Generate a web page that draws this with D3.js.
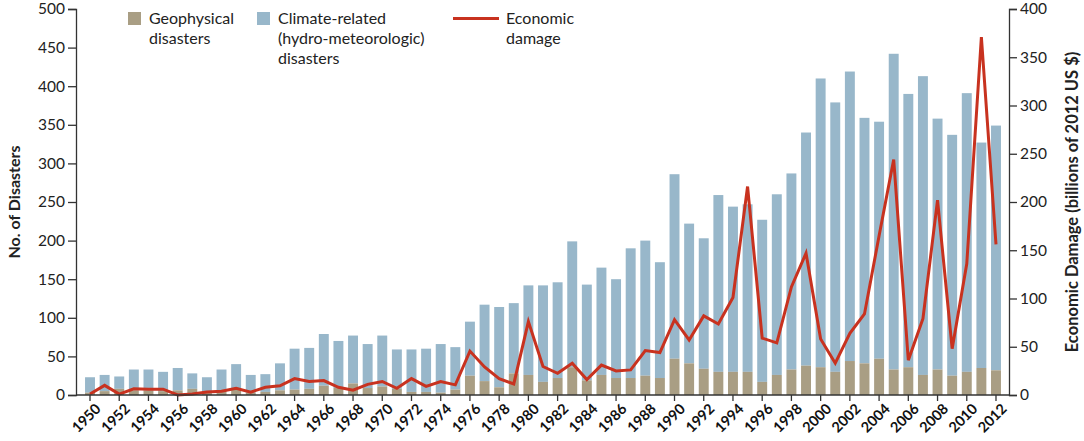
<!DOCTYPE html>
<html>
<head>
<meta charset="utf-8">
<script src="https://cdn.jsdelivr.net/npm/d3@7"></script>
<style>
  body { margin: 0; background: #fff; }
  svg { font-family: Lato, "Open Sans", sans-serif; }
</style>
</head>
<body>
<svg width="1084" height="441"></svg>
<script>
// data
const years = [1950, 1951, 1952, 1953, 1954, 1955, 1956, 1957, 1958, 1959,
  1960, 1961, 1962, 1963, 1964, 1965, 1966, 1967, 1968, 1969,
  1970, 1971, 1972, 1973, 1974, 1975, 1976, 1977, 1978, 1979,
  1980, 1981, 1982, 1983, 1984, 1985, 1986, 1987, 1988, 1989,
  1990, 1991, 1992, 1993, 1994, 1995, 1996, 1997, 1998, 1999,
  2000, 2001, 2002, 2003, 2004, 2005, 2006, 2007, 2008, 2009,
  2010, 2011, 2012];

const geophysical = [3, 5, 8, 6, 6, 5, 6, 8, 5, 5,
  8, 3, 4, 6, 7, 8, 12, 9, 15, 9,
  11, 8, 4, 4, 3, 7, 25, 18, 10, 28,
  26, 17, 22, 36, 19, 26, 22, 22, 25, 22,
  47, 41, 34, 30, 30, 30, 17, 26, 33, 38,
  36, 30, 44, 41, 47, 33, 36, 26, 33, 25,
  30, 35, 32];

const climate = [20, 21, 16, 27, 27, 25, 29, 20, 18, 28,
  32, 23, 23, 35, 53, 53, 67, 61, 62, 57,
  66, 51, 55, 56, 63, 55, 70, 99, 104, 91,
  116, 125, 124, 163, 124, 139, 128, 168, 175, 150,
  239, 181, 169, 229, 214, 217, 210, 234, 254, 302,
  374, 349, 375, 318, 307, 409, 354, 387, 325, 312,
  361, 292, 317];

const damage = [1, 10, 1, 6.5, 6, 6, 0, 1, 3, 4,
  7, 3, 8, 9.5, 17, 14, 15, 8, 5, 11,
  14, 7, 17, 9, 14, 10.5, 45.5, 29, 17, 11.5,
  76, 29.5, 22.5, 33, 16, 31, 25, 26, 46, 44,
  78, 57, 82, 73.5, 101, 216, 59, 54, 112, 147,
  58, 33, 64, 84, 165, 244, 36, 79, 202, 48,
  136, 371, 156];

const countTicks = [0, 50, 100, 150, 200, 250, 300, 350, 400, 450, 500];
const damageTicks = [0, 50, 100, 150, 200, 250, 300, 350, 400];
const yearTicks = years.filter((y) => y % 2 === 0);

const colors = { geo: "#a99e84", climate: "#98b7ca", line: "#c8321f", axis: "#333" };

const svg = d3.select("svg");
const plotLeft = 76, plotRight = 1009, plotTop = 9, plotBottom = 395;

const x = d3.scaleBand()
  .domain(years)
  .range([82.7, 1003.3])
  .paddingInner(0.32)
  .paddingOuter(0.16);
const yCount = d3.scaleLinear().domain([0, 500]).range([plotBottom, plotTop]);
const yDamage = d3.scaleLinear().domain([0, 400]).range([plotBottom, plotTop]);

const rows = years.map((year, i) => ({
  year, geo: geophysical[i], climate: climate[i], damage: damage[i]
}));

// climate bars stacked on top of geophysical
svg.append("g")
  .selectAll("rect")
  .data(rows)
  .join("rect")
  .attr("x", (d) => x(d.year))
  .attr("width", x.bandwidth())
  .attr("y", (d) => yCount(d.geo + d.climate))
  .attr("height", (d) => yCount(d.geo) - yCount(d.geo + d.climate))
  .attr("fill", colors.climate);

svg.append("g")
  .selectAll("rect")
  .data(rows)
  .join("rect")
  .attr("x", (d) => x(d.year))
  .attr("width", x.bandwidth())
  .attr("y", (d) => yCount(d.geo))
  .attr("height", (d) => plotBottom - yCount(d.geo))
  .attr("fill", colors.geo);

const line = d3.line()
  .x((d) => x(d.year) + x.bandwidth() / 2)
  .y((d) => yDamage(d.damage));

svg.append("path")
  .datum(rows)
  .attr("d", line)
  .attr("fill", "none")
  .attr("stroke", colors.line)
  .attr("stroke-width", 3)
  .attr("stroke-linejoin", "miter");

// axes
const leftAxis = svg.append("g")
  .attr("transform", `translate(${plotLeft},0)`)
  .call(d3.axisLeft(yCount).tickValues(countTicks).tickSize(8).tickPadding(3));
const rightAxis = svg.append("g")
  .attr("transform", `translate(${plotRight},0)`)
  .call(d3.axisRight(yDamage).tickValues(damageTicks).tickSize(8).tickPadding(3));

[leftAxis, rightAxis].forEach((g) => {
  g.select(".domain").attr("stroke", colors.axis).attr("stroke-width", 1.3);
  g.selectAll(".tick line").attr("stroke", colors.axis).attr("stroke-width", 1.3);
  g.selectAll(".tick text")
    .attr("fill", "#222")
    .style("font-size", "15.5px")
    .style("font-family", "Lato, sans-serif");
});

svg.append("line")
  .attr("x1", plotLeft).attr("x2", plotRight)
  .attr("y1", plotBottom).attr("y2", plotBottom)
  .attr("stroke", colors.axis).attr("stroke-width", 1.3);

const xAxis = svg.append("g")
  .attr("transform", `translate(0,${plotBottom})`)
  .call(d3.axisBottom(x).tickValues(yearTicks).tickSize(6).tickPadding(2));
xAxis.select(".domain").remove();
xAxis.selectAll(".tick line").attr("stroke", colors.axis).attr("stroke-width", 1.3);
xAxis.selectAll(".tick text")
  .attr("fill", "#111")
  .style("font-size", "14.5px")
  .style("font-weight", "bold")
  .style("font-family", "Lato, sans-serif")
  .attr("text-anchor", "end")
  .attr("dy", "0.3em")
  .attr("transform", "translate(3,6) rotate(-45)");

// axis titles
svg.append("text")
  .attr("transform", `translate(20,${(plotTop + plotBottom) / 2}) rotate(-90)`)
  .attr("text-anchor", "middle")
  .style("font-size", "16px")
  .style("font-weight", "bold")
  .attr("fill", "#222")
  .text("No. of Disasters");

svg.append("text")
  .attr("transform", `translate(1078,${(plotTop + plotBottom) / 2}) rotate(-90)`)
  .attr("text-anchor", "middle")
  .style("font-size", "16.5px")
  .style("font-weight", "bold")
  .attr("fill", "#222")
  .text("Economic Damage (billions of 2012 US $)");

// legend
const legend = svg.append("g").style("font-size", "16px").attr("fill", "#222");

legend.append("rect").attr("x", 128).attr("y", 12).attr("width", 13).attr("height", 13).attr("fill", colors.geo);
legend.append("text").attr("x", 149).attr("y", 24)
  .selectAll("tspan")
  .data(["Geophysical", "disasters"])
  .join("tspan")
  .attr("x", 149)
  .attr("dy", (d, i) => (i ? 20 : 0))
  .text((d) => d);

legend.append("rect").attr("x", 257).attr("y", 12).attr("width", 13).attr("height", 13).attr("fill", colors.climate);
legend.append("text").attr("x", 278).attr("y", 24)
  .selectAll("tspan")
  .data(["Climate-related", "(hydro-meteorologic)", "disasters"])
  .join("tspan")
  .attr("x", 278)
  .attr("dy", (d, i) => (i ? 20 : 0))
  .text((d) => d);

legend.append("line").attr("x1", 453).attr("x2", 499).attr("y1", 18.5).attr("y2", 18.5)
  .attr("stroke", colors.line).attr("stroke-width", 3);
legend.append("text").attr("x", 506).attr("y", 24)
  .selectAll("tspan")
  .data(["Economic", "damage"])
  .join("tspan")
  .attr("x", 506)
  .attr("dy", (d, i) => (i ? 20 : 0))
  .text((d) => d);
</script>
</body>
</html>
